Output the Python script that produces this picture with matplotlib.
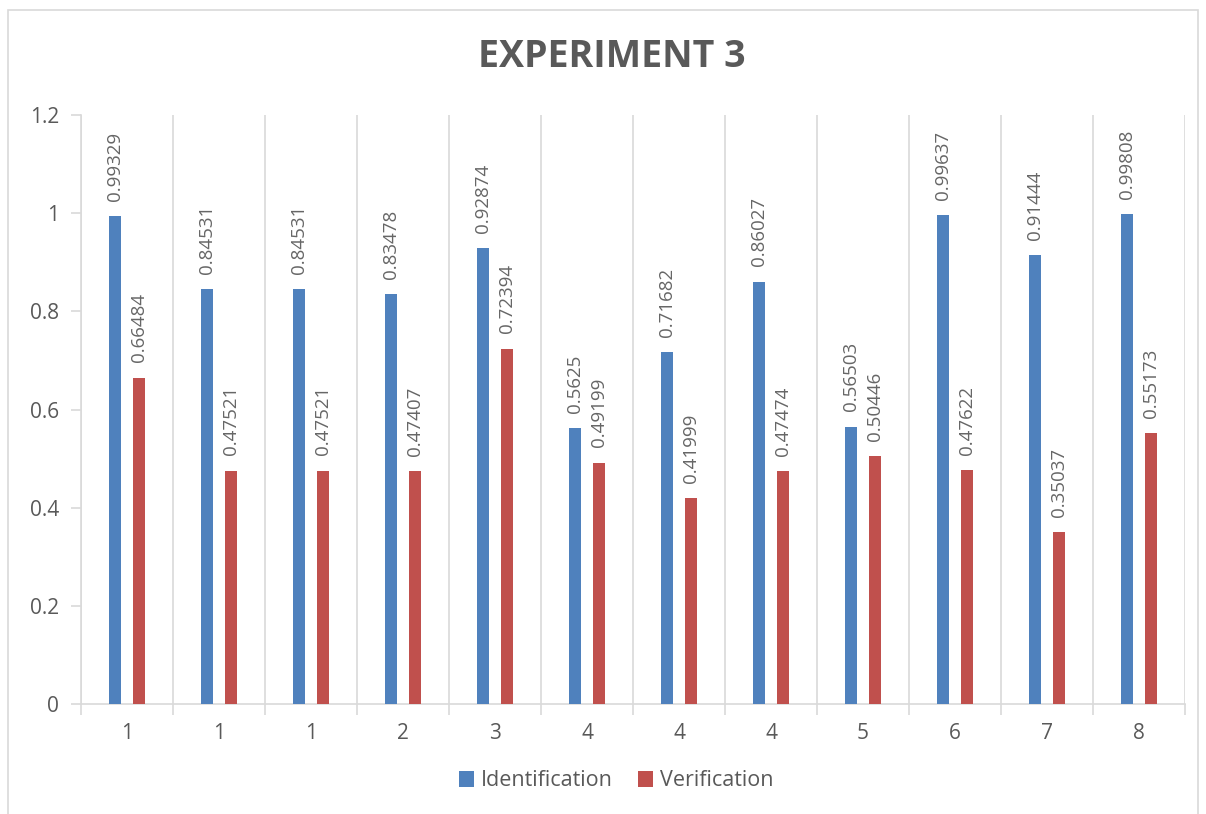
import matplotlib.pyplot as plt
import numpy as np
from matplotlib.patches import Rectangle

categories = ["1", "1", "1", "2", "3", "4", "4", "4", "5", "6", "7", "8"]
identification = [0.99329, 0.84531, 0.84531, 0.83478, 0.92874, 0.5625,
                  0.71682, 0.86027, 0.56503, 0.99637, 0.91444, 0.99808]
verification = [0.66484, 0.47521, 0.47521, 0.47407, 0.72394, 0.49199,
                0.41999, 0.47474, 0.50446, 0.47622, 0.35037, 0.55173]
yticks = [0, 0.2, 0.4, 0.6, 0.8, 1, 1.2]

BLUE = "#4F81BD"
RED = "#C0504D"
TEXT = "#595959"
GRID = "#D9D9D9"

plt.rcParams["font.family"] = ["Open Sans", "DejaVu Sans"]

fig = plt.figure(figsize=(12.06, 8.14), dpi=100)
ax = fig.add_axes([0.0672, 0.1351, 0.9154, 0.7236])

# outer chart border
fig.patches.append(Rectangle((8 / 1206, -0.01), 1190 / 1206, 1 - 10 / 814 + 0.01,
                             transform=fig.transFigure, fill=False,
                             edgecolor=GRID, linewidth=1.2))

x = np.arange(len(categories))
w = 0.13
b1 = ax.bar(x - w, identification, width=w, color=BLUE, label="Identification", zorder=3)
b2 = ax.bar(x + w, verification, width=w, color=RED, label="Verification", zorder=3)

for bars, vals in ((b1, identification), (b2, verification)):
    for rect, v in zip(bars, vals):
        ax.annotate(str(v), (rect.get_x() + rect.get_width() / 2, v),
                    xytext=(0, 11), textcoords="offset points",
                    rotation=90, ha="center", va="bottom",
                    fontsize=13.5, color="#666666")

ax.set_xlim(-0.5, len(categories) - 0.5)
ax.set_ylim(0, 1.2)
ax.set_yticks(yticks)
ax.set_yticklabels(["0", "0.2", "0.4", "0.6", "0.8", "1", "1.2"])
ax.set_xticks(x)
ax.set_xticklabels(categories)
ax.set_xticks(np.arange(len(categories) + 1) - 0.5, minor=True)
ax.tick_params(axis="x", which="major", length=0, pad=14, labelsize=15, labelcolor=TEXT)
ax.tick_params(axis="x", which="minor", length=8, width=1.2, color=GRID)
ax.tick_params(axis="y", length=7, width=1.2, color=GRID, pad=9, labelsize=15, labelcolor=TEXT)

for b in np.arange(len(categories) + 1) - 0.5:
    ax.axvline(b, color=GRID, linewidth=1.2, zorder=1)

for side in ("top", "right"):
    ax.spines[side].set_visible(False)
for side in ("left", "bottom"):
    ax.spines[side].set_color(GRID)
    ax.spines[side].set_linewidth(1.2)

fig.text(0.5075, 1 - 57 / 814, "EXPERIMENT 3", ha="center", va="center",
         fontsize=27, fontweight="bold", color=TEXT)

fig.legend(handles=[b1, b2], loc="center", bbox_to_anchor=(0.511, 1 - 781 / 814),
           ncol=2, frameon=False, fontsize=15.5, labelcolor=TEXT,
           handlelength=0.7, handleheight=0.7, handletextpad=0.3, columnspacing=1.2)

fig.savefig("out.png", dpi=100)
